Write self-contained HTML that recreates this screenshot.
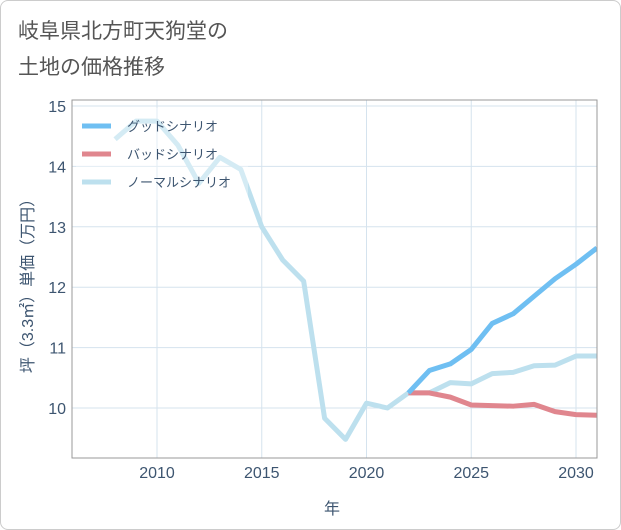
<!DOCTYPE html>
<html><head><meta charset="utf-8"><style>
body{margin:0;background:#fff;font-family:"Liberation Sans","Noto Sans CJK JP",sans-serif;}
#wrap{position:relative;width:619px;height:528px;border:1px solid #ccc;border-radius:8px;overflow:hidden;}
</style></head><body>
<div id="wrap">
<svg id="c" width="621" height="530" style="position:absolute;left:-1px;top:-1px">
<text x="18" y="38" font-size="21" fill="#555">岐阜県北方町天狗堂の</text>
<text x="18" y="74" font-size="21" fill="#555">土地の価格推移</text>
<g id="grid"></g><g id="series"></g><g id="axes"></g>
<text x="332" y="514" font-size="16" fill="#3d5570" text-anchor="middle">年</text>
<text transform="translate(33,282) rotate(-90)" font-size="16" fill="#3d5570" text-anchor="middle">坪（3.3㎡）単価（万円）</text>
<g id="legend"></g>
</svg>
</div>
<script>
const years=[2008,2009,2010,2011,2012,2013,2014,2015,2016,2017,2018,2019,2020,2021,2022,2023,2024,2025,2026,2027,2028,2029,2030,2031];
const normal=[14.45,14.75,14.75,14.35,13.72,14.15,13.95,13.0,12.45,12.1,9.83,9.48,10.08,10.0,10.25,10.25,10.42,10.4,10.57,10.59,10.7,10.71,10.86,10.86];
const futureYears=[2022,2023,2024,2025,2026,2027,2028,2029,2030,2031];
const good=[10.25,10.62,10.73,10.97,11.4,11.56,11.85,12.14,12.38,12.65];
const bad=[10.25,10.25,10.18,10.05,10.04,10.03,10.06,9.94,9.89,9.88];
const xTicks=[2010,2015,2020,2025,2030];
const yTicks=[10,11,12,13,14,15];
const NS="http://www.w3.org/2000/svg";
const L=72,R=597,T=100,B=458;
const x=v=>157+(v-2010)*20.95;
const y=v=>408-(v-10)*60.4;
function mk(t,a,p){const e=document.createElementNS(NS,t);for(const k in a)e.setAttribute(k,a[k]);p.appendChild(e);return e;}
const grid=document.getElementById('grid'),axes=document.getElementById('axes'),ser=document.getElementById('series'),leg=document.getElementById('legend');
mk('rect',{x:L,y:T,width:R-L,height:B-T,fill:'none',stroke:'#999','stroke-width':1},axes);
xTicks.forEach(v=>{
const g=mk('line',{x1:x(v),x2:x(v),y1:T,y2:B,stroke:'#d5e3ee'},grid);


const t=mk('text',{x:x(v),y:B+20,'font-size':16,fill:'#3d5570','text-anchor':'middle'},axes);t.textContent=v;


});
yTicks.forEach(v=>{
const g=mk('line',{x1:L,x2:R,y1:y(v),y2:y(v),stroke:'#d5e3ee'},grid);


const t=mk('text',{x:L-6,y:y(v)+6,'font-size':16,fill:'#3d5570','text-anchor':'end'},axes);t.textContent=v;


});
function line(xs,vs,col,name){
const p=mk('polyline',{points:xs.map((v,i)=>x(v)+','+y(vs[i])).join(' '),fill:'none',stroke:col,'stroke-width':5,'stroke-linejoin':'round'},ser);


}
const cp=mk('clipPath',{id:'cl'},axes);mk('rect',{x:L,y:T,width:R-L,height:B-T},cp);
ser.setAttribute('clip-path','url(#cl)');
line(years,normal,'#bde0ee','normal-scenario-line');
line(futureYears,bad,'#e0868e','bad-scenario-line');
line(futureYears,good,'#6fbff2','good-scenario-line');
mk('rect',{x:76,y:108,width:172,height:92,fill:'rgba(255,255,255,0.35)'},leg);
[['グッドシナリオ','#6fbff2'],['バッドシナリオ','#e0868e'],['ノーマルシナリオ','#bde0ee']].forEach((d,i)=>{
const yy=126+i*28;
const s=mk('line',{x1:82,x2:111,y1:yy,y2:yy,stroke:d[1],'stroke-width':5},leg);


const t=mk('text',{x:127,y:yy+5,'font-size':13,fill:'#3d5570'},leg);t.textContent=d[0];


});
</script>
</body></html>
